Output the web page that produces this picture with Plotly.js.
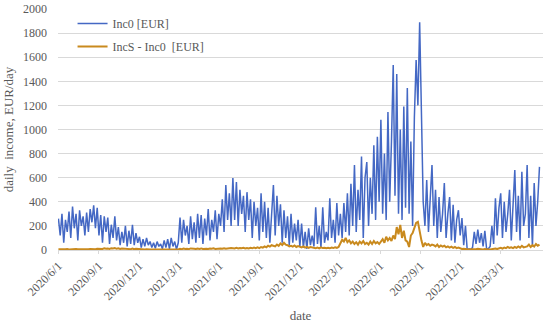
<!DOCTYPE html>
<html>
<head>
<meta charset="utf-8">
<script src="https://cdn.plot.ly/plotly-3.0.1.min.js"></script>
<style>html,body{margin:0;padding:0;background:#fff}#chart{width:550px;height:325px}</style>
</head>
<body>
<div id="chart"></div>
<script>
const startDate = '2020-06-01';
const stepDays = 4;

const inc0 = [
  260,120,300,60,250,150,320,100,
  360,180,300,80,330,200,280,120,
  310,150,340,230,370,180,350,
  120,290,60,280,150,270,50,210,
  100,280,80,190,40,150,60,200,
  30,160,50,210,40,140,60,
  110,20,90,30,100,40,70,20,
  60,15,70,30,50,10,80,20,
  90,10,100,30,70,5,60,
  270,60,250,120,200,50,280,90,
  230,60,300,100,290,50,260,
  120,340,80,250,150,330,90,300,
  200,420,150,540,250,470,200,
  597,250,565,200,500,300,450,150,
  480,250,420,100,400,200,350,80,
  470,150,400,100,350,60,300,
  540,120,450,200,380,60,330,100,
  280,40,300,60,220,80,250,
  30,220,20,150,10,180,40,120,
  30,355,50,200,20,355,60,150,
  80,430,100,250,60,390,120,
  300,100,390,150,470,120,550,200,
  705,150,500,250,775,100,600,
  730,200,600,300,870,250,940,400,
  1080,300,800,250,1146,400,900,
  1535,450,1460,300,1000,250,1190,350,
  1345,300,900,200,1100,1577,1200,1890,
  1146,400,200,580,150,400,705,
  200,500,100,440,150,300,555,100,
  300,440,80,375,60,250,330,
  120,265,40,200,0,10,5,20,
  150,50,170,60,140,30,160,10,
  10,30,200,50,430,120,350,
  470,100,400,150,300,500,80,400,
  664,150,450,80,650,200,300,
  705,100,450,30,555,200,400,690
];

const incDiff = [
  6,8,5,7,6,9,5,7,
  7,5,8,6,9,6,7,5,
  8,6,9,7,8,6,10,
  8,12,9,14,10,13,9,15,
  12,16,10,14,9,13,11,12,
  8,11,7,12,6,10,8,
  6,4,7,5,6,3,5,4,
  4,3,5,2,4,3,5,2,
  4,2,5,3,4,2,5,
  10,7,12,8,11,7,13,9,
  10,8,12,9,13,8,12,
  11,9,13,10,14,9,12,10,
  13,10,15,11,14,12,16,
  15,12,18,13,17,14,19,13,
  16,13,18,14,20,15,22,16,
  25,20,30,22,35,28,40,
  38,30,45,35,55,42,60,45,
  40,30,35,28,38,25,32,
  28,22,30,20,26,18,24,20,
  18,15,20,14,22,16,19,15,
  18,14,20,16,22,18,25,
  60,85,70,100,65,80,55,70,
  50,65,45,70,55,75,50,
  60,45,70,50,75,55,65,50,
  70,90,60,110,80,100,75,
  120,90,190,130,208,100,160,80,
  70,25,120,141,180,224,233,141,
  80,25,60,40,50,35,45,
  40,30,45,25,38,28,35,22,
  30,20,28,18,25,15,20,
  12,8,10,6,5,4,6,5,
  8,6,10,7,9,5,8,4,
  5,4,8,6,12,8,15,
  18,12,20,15,25,18,22,15,
  25,18,30,20,35,22,28,
  30,45,25,40,28,50,35,45
];

const tickDates = ['2020-06-01','2020-09-01','2020-12-01','2021-03-01','2021-06-01','2021-09-01',
                   '2021-12-01','2022-03-01','2022-06-01','2022-09-01','2022-12-01','2023-03-01'];
const tickLabels = ['2020/6/1','2020/9/1','2020/12/1','2021/3/1','2021/6/1','2021/9/1',
                    '2021/12/1','2022/3/1','2022/6/1','2022/9/1','2022/12/1','2023/3/1'];

function dateAt(i){
  const d = new Date(startDate + 'T00:00:00Z');
  d.setUTCDate(d.getUTCDate() + i*stepDays);
  return d.toISOString().slice(0,10);
}
const dates = inc0.map((_,i)=>dateAt(i));

const font = {family:'"Liberation Serif", "DejaVu Serif", serif', size:12, color:'#595959'};

const traces = [
  {x:dates, y:inc0, type:'scatter', mode:'lines', name:'Inc0 [EUR]',
   line:{color:'#4468c4', width:1.5}, legendgroup:'a'},
  {x:dates, y:incDiff.slice(0,dates.length), type:'scatter', mode:'lines', name:'IncS - Inc0  [EUR]',
   line:{color:'#c98a1e', width:2}, legendgroup:'b'}
];

const layout = {
  width:550, height:325,
  margin:{l:58, r:7, t:9, b:75},
  paper_bgcolor:'#fff', plot_bgcolor:'#fff',
  font:font,
  showlegend:true,
  legend:{x:0.03, y:1.0, xanchor:'left', yanchor:'top', bgcolor:'rgba(0,0,0,0)',
          font:{family:font.family, size:12, color:'#595959'}, tracegroupgap:4},
  xaxis:{type:'date', range:['2020-05-31','2023-06-06'],
         tickvals:tickDates, ticktext:tickLabels, tickangle:-45,
         showgrid:false, showline:true, linecolor:'#d9d9d9', linewidth:1,
         ticks:'outside', ticklen:3, tickcolor:'#d9d9d9',
         tickfont:{family:font.family, size:12, color:'#595959'},
         title:{text:'date', font:{family:font.family, size:13, color:'#595959'}, standoff:8},
         zeroline:false},
  yaxis:{range:[0,2000], dtick:200, showgrid:true, gridcolor:'#d9d9d9', gridwidth:1,
         zeroline:false, showline:false, ticks:'', ticklabelstandoff:10,
         tickfont:{family:font.family, size:12, color:'#595959'},
         title:{text:'daily  income, EUR/day', font:{family:font.family, size:13, color:'#595959'}, standoff:6}}
};

Plotly.newPlot('chart', traces, layout, {displayModeBar:false, staticPlot:true});
</script>
</body>
</html>
